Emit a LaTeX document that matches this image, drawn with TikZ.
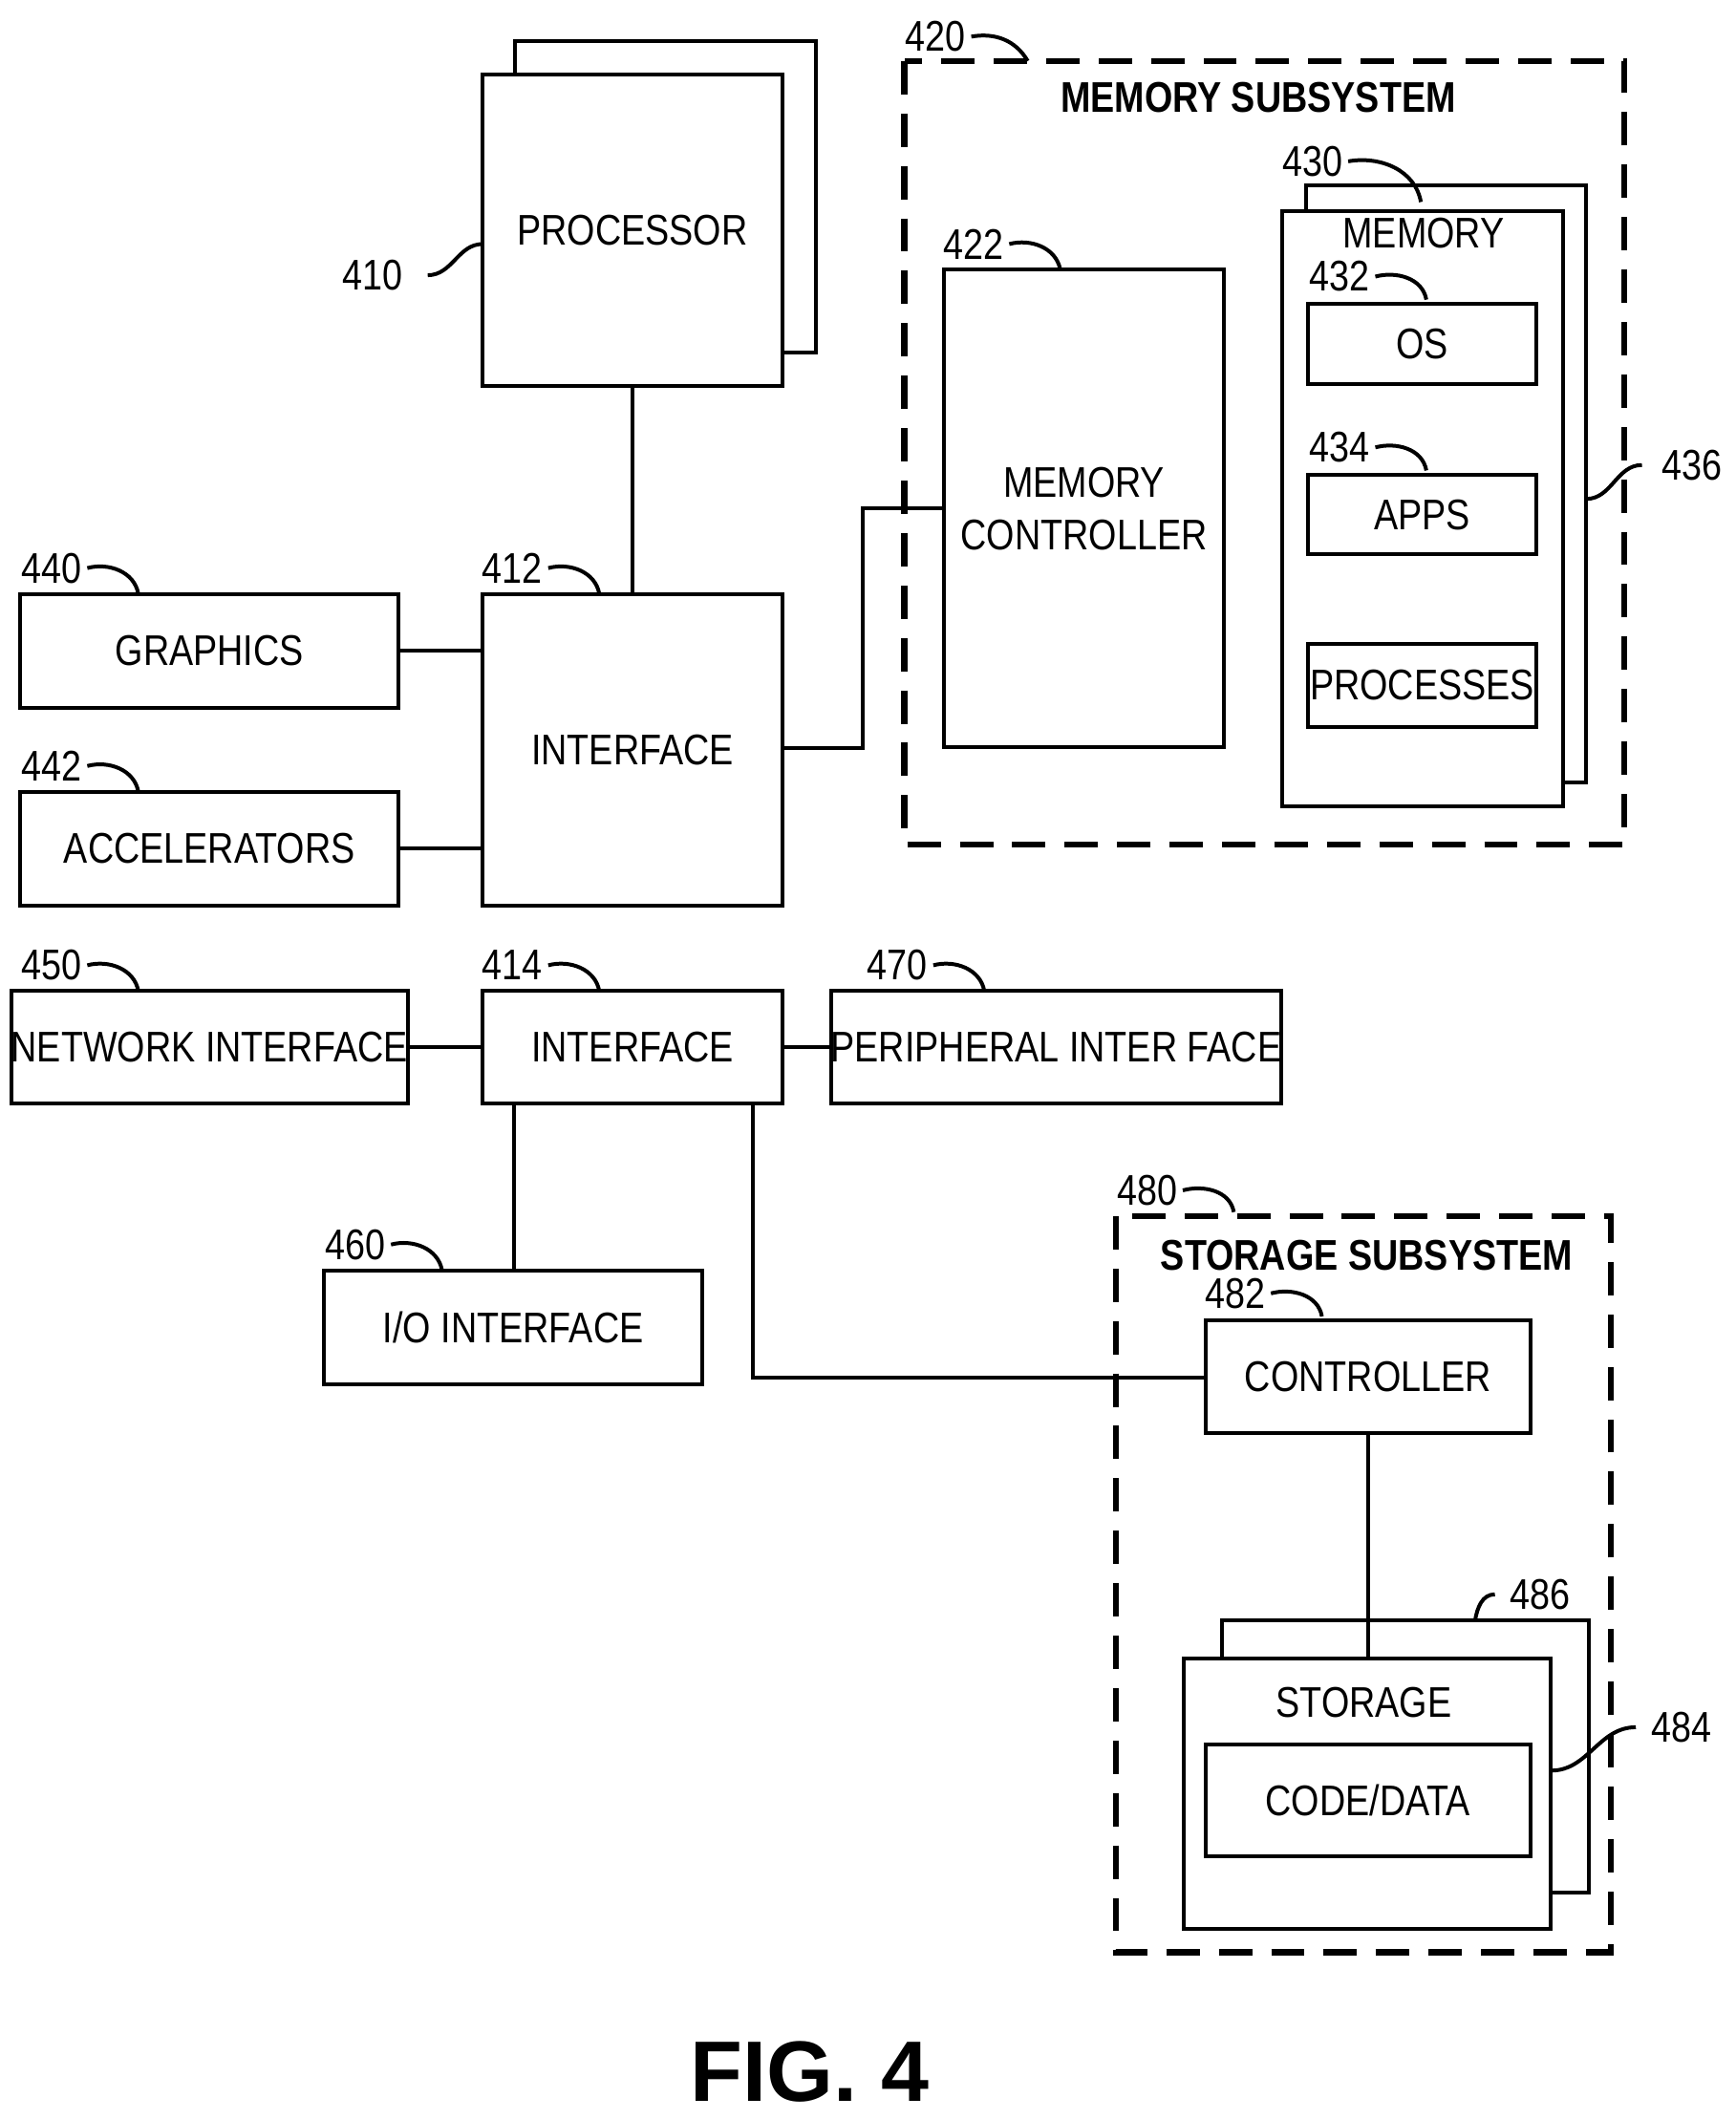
\documentclass[tikz,border=0pt]{standalone}
\usepackage{fontspec}
\setmainfont[FakeStretch=0.84]{Liberation Sans}
\newfontfamily\figfont{Liberation Sans}
\tikzset{
  box/.style={draw,line width=0.8pt,fill=white,inner sep=0pt,outer sep=0pt,align=center,font=\fontsize{9}{11}\selectfont},
  sub/.style={draw,line width=1.3pt,dash pattern=on 7pt off 4pt},
  lbl/.style={inner sep=1pt,font=\fontsize{9}{11}\selectfont},
  ttl/.style={inner sep=0pt,font=\bfseries\fontsize{9}{11}\selectfont},
  wire/.style={line width=0.8pt},
  sq/.style={line width=0.8pt}
}
% box from corner to corner, named
\newcommand{\boxat}[6]{\node[box,minimum width={(#4-#2)*0.01cm},minimum height={(#5-#3)*0.01cm}] (#1) at ({(#2+#4)/2},{(#3+#5)/2}) {#6};}
\begin{document}
\begin{tikzpicture}[x=0.01cm,y=-0.01cm]
\useasboundingbox (0,0) rectangle (1280,1563);

% Memory subsystem
\draw[sub] (667,45) rectangle (1198,623);
\node[ttl] (memttl) at (928,72) {MEMORY SUBSYSTEM};
\node[lbl] (l420) at (690,27) {420};
\draw[sq] (l420.east) to[out=10,in=120] (758,45);

% Processor
\boxat{procb}{380}{30}{602}{260}{}
\boxat{proc}{356}{55}{577}{285}{PROCESSOR}
\node[lbl] (l410) at (275,203) {410};
\draw[sq] ([xshift=4]l410.east) to[out=0,in=180] (proc.west|-0,180);

\boxat{if1}{356}{438}{577}{668}{INTERFACE}
\node[lbl] (l412) at (378,419) {412};
\draw[sq] (l412.east) to[out=15,in=100] (442,438);
\draw[wire] (proc.south) -- (proc.south|-if1.north);

\boxat{gfx}{15}{438}{294}{522}{GRAPHICS}
\node[lbl] (l440) at (38,419) {440};
\draw[sq] (l440.east) to[out=15,in=100] (102,438);
\draw[wire] (gfx.east|-0,480) -- (if1.west|-0,480);

\boxat{acc}{15}{584}{294}{668}{ACCELERATORS}
\node[lbl] (l442) at (38,565) {442};
\draw[sq] (l442.east) to[out=15,in=100] (102,584);
\draw[wire] (acc.east|-0,626) -- (if1.west|-0,626);

% Memory controller
\boxat{mctl}{696}{199}{903}{551}{MEMORY\\CONTROLLER}
\node[lbl] (l422) at (718,180) {422};
\draw[sq] (l422.east) to[out=15,in=100] (782,199);
\draw[wire] (if1.east|-0,552) -- (636,552) -- (636,375) -- (mctl.west|-0,375);

% Memory
\boxat{memb}{963}{137}{1170}{577}{}
\boxat{mem}{946}{156}{1153}{595}{}
\node[lbl] (memtxt) at (1050,172) {MEMORY};
\node[lbl] (l430) at (968,119) {430};
\draw[sq] (l430.east) to[out=10,in=100] (1048,149);
\boxat{os}{965}{224}{1133}{283}{OS}
\node[lbl] (l432) at (988,204) {432};
\draw[sq] (l432.east) to[out=15,in=100] (1052,221);
\boxat{apps}{965}{350}{1133}{409}{APPS}
\node[lbl] (l434) at (988,330) {434};
\draw[sq] (l434.east) to[out=15,in=100] (1052,347);
\boxat{procs}{965}{475}{1133}{536}{PROCESSES}
\node[lbl] (l436) at (1248,343) {436};
\draw[sq] (memb.east|-0,368) to[out=0,in=180] ([xshift=-3]l436.west);

% Interface 414
\boxat{if2}{356}{731}{577}{814}{INTERFACE}
\node[lbl] (l414) at (378,712) {414};
\draw[sq] (l414.east) to[out=15,in=100] (442,731);

\boxat{net}{15}{731}{294}{814}{NETWORK INTERFACE}
\node[lbl] (l450) at (38,712) {450};
\draw[sq] (l450.east) to[out=15,in=100] (102,731);
\draw[wire] (net.east|-0,772) -- (if2.west|-0,772);

\boxat{peri}{640}{731}{918}{814}{PERIPHERAL INTER FACE}
\node[lbl] (l470) at (662,712) {470};
\draw[sq] (l470.east) to[out=15,in=100] (726,731);
\draw[wire] (if2.east|-0,772) -- (peri.west|-0,772);

\boxat{io}{239}{937}{518}{1021}{I/O INTERFACE}
\node[lbl] (l460) at (262,918) {460};
\draw[sq] (l460.east) to[out=15,in=100] (326,937);
\draw[wire] (379,814) -- (379,937);

% Storage subsystem
\draw[sub] (823,897) rectangle (1188,1440);
\node[ttl] (stottl) at (1008,926) {STORAGE SUBSYSTEM};
\node[lbl] (l480) at (846,878) {480};
\draw[sq] (l480.east) to[out=15,in=100] (910,894);

\boxat{ctl}{889}{974}{1129}{1057}{CONTROLLER}
\node[lbl] (l482) at (911,954) {482};
\draw[sq] (l482.east) to[out=15,in=100] (975,971);
\draw[wire] (555,814) -- (555,1016) -- (ctl.west|-0,1016);

\boxat{stob}{901}{1195}{1172}{1396}{}
\boxat{sto}{873}{1223}{1144}{1423}{}
\node[lbl] (stotxt) at (1006,1256) {STORAGE};
\boxat{code}{889}{1287}{1129}{1369}{CODE/DATA}
\draw[wire] (ctl.south) -- (ctl.south|-sto.north);
\node[lbl] (l486) at (1136,1176) {486};
\draw[sq] (1088,1195) to[out=80,in=180] ([xshift=-2]l486.west);
\node[lbl] (l484) at (1240,1274) {484};
\draw[sq] (sto.east|-0,1306) to[out=0,in=180] ([xshift=-2]l484.west);

\node[inner sep=0pt,font=\figfont\bfseries\fontsize{18}{20}\selectfont] (fig) at (597,1528) {FIG. 4};
\end{tikzpicture}
\end{document}
